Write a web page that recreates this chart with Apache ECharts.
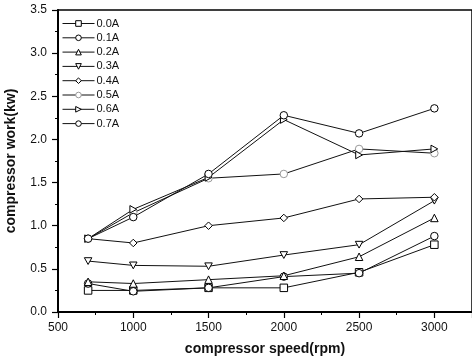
<!DOCTYPE html>
<html>
<head>
<meta charset="utf-8">
<script src="https://cdn.jsdelivr.net/npm/echarts@6/dist/echarts.min.js"></script>
<style>
  html, body { margin: 0; padding: 0; background: #fff; }
  #chart { width: 472px; height: 364px; }
</style>
</head>
<body>
<div id="chart"></div>
<script>
// Compressor speed (rpm) at which work was measured
const speeds = [700, 1000, 1500, 2000, 2500, 3000];

// Compressor work (kW) for each current level
const seriesNames = ['0.0A', '0.1A', '0.2A', '0.3A', '0.4A', '0.5A', '0.6A', '0.7A'];
const work00 = [0.25, 0.25, 0.28, 0.28, 0.46, 0.78];
const work01 = [0.33, 0.24, 0.28, 0.41, 0.45, 0.88];
const work02 = [0.35, 0.33, 0.375, 0.42, 0.64, 1.09];
const work03 = [0.59, 0.54, 0.53, 0.66, 0.78, 1.29];
const work04 = [0.85, 0.80, 1.00, 1.09, 1.31, 1.33];
const work05 = [0.85, 1.15, 1.55, 1.60, 1.89, 1.84];
const work06 = [0.85, 1.19, 1.56, 2.23, 1.82, 1.89];
const work07 = [0.85, 1.10, 1.60, 2.28, 2.07, 2.36];
const workData = [work00, work01, work02, work03, work04, work05, work06, work07];

// Axis ticks
const yTicks = [0.0, 0.5, 1.0, 1.5, 2.0, 2.5, 3.0, 3.5];
const xTicks = [500, 1000, 1500, 2000, 2500, 3000];

const markers = [
  'rect',
  'circle',
  'triangle',
  'path://M0,0 L10,0 L5,9 Z',
  'diamond',
  'circle',
  'path://M0,0 L9,5 L0,10 Z',
  'circle'
];
const markerColors = ['#000', '#000', '#000', '#000', '#000', '#999', '#000', '#000'];

const font = 'Liberation Sans, Arial, sans-serif';

const series = seriesNames.map((name, i) => ({
  name: name,
  type: 'line',
  data: speeds.map((s, j) => [s, workData[i][j]]),
  symbol: markers[i],
  symbolSize: 7.5,
  symbolKeepAspect: true,
  showAllSymbol: true,
  lineStyle: { color: '#111', width: 1 },
  itemStyle: { color: '#fff', borderColor: markerColors[i], borderWidth: 1 },
  emphasis: { disabled: true },
  animation: false
}));

const chart = echarts.init(document.getElementById('chart'), null, { renderer: 'canvas' });
chart.setOption({
  backgroundColor: '#fff',
  animation: false,
  grid: {
    left: 58, top: 10, right: 0, bottom: 52,
    outerBoundsMode: 'none',
    show: true, borderColor: '#000', borderWidth: 1.5, backgroundColor: 'transparent'
  },
  legend: {
    orient: 'vertical',
    left: 57, top: 13,
    itemWidth: 32, itemHeight: 7, itemGap: 3.3,
    data: seriesNames,
    lineStyle: { width: 1, color: '#111' },
    itemStyle: { borderWidth: 1 },
    textStyle: { fontFamily: font, fontSize: 11, color: '#111', padding: [0, 0, 0, -3] },
    inactiveColor: '#000'
  },
  xAxis: {
    type: 'value',
    min: 500, max: 3250, interval: 500,
    axisLine: { onZero: false, lineStyle: { color: '#000', width: 2 } },
    axisTick: { inside: false, length: 6, lineStyle: { color: '#000', width: 1.2 } },
    minorTick: { show: true, splitNumber: 2, length: 3, lineStyle: { color: '#000' } },
    splitLine: { show: false },
    axisLabel: {
      fontFamily: font, fontSize: 12, color: '#111', margin: 10,
      formatter: v => (xTicks.includes(v) ? String(v) : '')
    },
    name: 'compressor speed(rpm)',
    nameLocation: 'middle', nameGap: 30,
    nameTextStyle: { fontFamily: font, fontSize: 14, color: '#111', fontWeight: 'bold' }
  },
  yAxis: {
    type: 'value',
    min: 0, max: 3.5, interval: 0.5,
    axisLine: { lineStyle: { color: '#000', width: 2 } },
    axisTick: { inside: false, length: 6, lineStyle: { color: '#000', width: 1.2 } },
    minorTick: { show: true, splitNumber: 2, length: 3, lineStyle: { color: '#000' } },
    splitLine: { show: false },
    axisLabel: {
      fontFamily: font, fontSize: 12, color: '#111', margin: 11,
      formatter: v => (yTicks.includes(v) ? v.toFixed(1) : '')
    },
    name: 'compressor work(kw)',
    nameLocation: 'middle', nameGap: 40,
    nameTextStyle: { fontFamily: font, fontSize: 14, color: '#111', fontWeight: 'bold' }
  },
  series: series
});
</script>
</body>
</html>
